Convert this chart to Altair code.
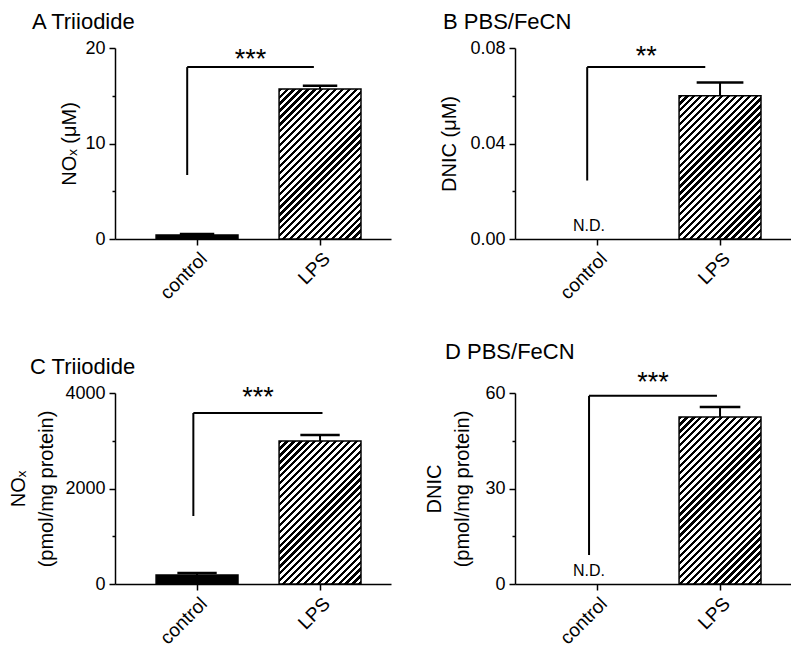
import altair as alt
import pandas as pd

FONT = "Liberation Sans"
CATS = ["control", "LPS"]

PANEL_TITLES = ["A Triiodide", "B PBS/FeCN", "C Triiodide", "D PBS/FeCN"]
Y_TITLES = ["NOₓ (μM)", "DNIC (μM)", ["NOₓ", "(pmol/mg protein)"], ["DNIC", "(pmol/mg protein)"]]
Y_MAX = [20, 0.08, 4000, 60]
Y_MAJOR = [[0, 10, 20], [0, 0.04, 0.08], [0, 2000, 4000], [0, 30, 60]]
Y_MINOR = [[5, 15], [0.02, 0.06], [1000, 3000], [15, 45]]
Y_FORMAT = ["d", ".2f", "d", "d"]
MEANS = [[0.42, 15.7], [None, 0.060], [188, 2995], [None, 52.5]]
SEMS = [[0.10, 0.35], [None, 0.0055], [40, 125], [None, 3.1]]
SIG = ["***", "**", "***", "***"]
BRACKET_LOW = [6.7, 0.0245, 1424, 9.1]
BRACKET_HIGH = [18.0, 0.072, 3581, 59.1]
STAR_Y = [19.3, 0.0783, 4000, 64.7]
ND_TEXT = "N.D."

# ---- style / layout constants ----
W, H = 276, 191
X_DOMAIN = [-0.667, 1.577]
STEP = W / (X_DOMAIN[1] - X_DOMAIN[0])
BAR_HALF = 0.333
CAP_HALF = [0.14, 0.19, 0.16, 0.165]
BRK_X = [(-0.08, 0.95), (-0.08, 0.88), (-0.03, 1.02), (-0.065, 0.975)]
TITLE_DX = [-83, -72, -85, -70]
TITLE_PAD = [5, 10, 8, 12]
HATCH_PERIOD_PX = 4.9
HATCH_BLACK = 0.47


def hatch_fill(w, h):
    a = w * (w + h) / (w * w + h * h)
    b = h * (w + h) / (w * w + h * h)
    period_t = HATCH_PERIOD_PX * (2 ** 0.5) / (w + h)
    stops = []
    s = 0.0
    while s < 1.0:
        e1 = min(s + HATCH_BLACK * period_t, 1.0)
        e2 = min(s + period_t, 1.0)
        stops += [
            {"offset": round(s, 5), "color": "black"},
            {"offset": round(e1, 5), "color": "black"},
            {"offset": round(e1, 5), "color": "white"},
            {"offset": round(e2, 5), "color": "white"},
        ]
        s += period_t
    return {"gradient": "linear", "x1": 0, "y1": 0, "x2": a, "y2": b, "stops": stops}


def panel(i):
    major = Y_MAJOR[i]
    ticks = sorted(major + Y_MINOR[i])
    major_js = "[" + ",".join(repr(v) for v in major) + "]"
    cats_js = "[" + ",".join("'" + c + "'" for c in CATS) + "]"
    yscale = alt.Scale(domain=[0, Y_MAX[i]], nice=False, zero=True)
    xscale = alt.Scale(domain=X_DOMAIN, nice=False, zero=False)
    yaxis = alt.Axis(
        values=ticks, format=Y_FORMAT[i], title=Y_TITLES[i],
        labelExpr=f"indexof({major_js}, datum.value) >= 0 ? datum.label : ''",
        tickSize={"condition": {"test": f"indexof({major_js}, datum.value) >= 0", "value": 6}, "value": 3},
        titlePadding=TITLE_PAD[i], grid=False, labelFontSize=18, labelPadding=4,
        titleLineHeight=28,
    )
    xaxis = alt.Axis(values=[0, 1], labelExpr=f"{cats_js}[datum.value]", title=None,
                     labelAngle=-45, tickSize=6, grid=False, labelPadding=4, labelFontSize=19)

    def X(f):
        return alt.X(f, type="quantitative", scale=xscale, axis=xaxis)

    def Y(f):
        return alt.Y(f, type="quantitative", scale=yscale, axis=yaxis)

    rows = []
    for j, c in enumerate(CATS):
        m = MEANS[i][j]
        rows.append(dict(cat=c, pos=j, lo=j - BAR_HALF, hi=j + BAR_HALF,
                         mean=m, top=(m + SEMS[i][j]) if m is not None else None,
                         cl=j - CAP_HALF[i], cr=j + CAP_HALF[i], zero=0))
    df = pd.DataFrame(rows)
    ctrl = df[(df.cat == CATS[0]) & df["mean"].notna()]
    lps = df[(df.cat == CATS[1]) & df["mean"].notna()]
    nd = df[df["mean"].isna()]

    layers = []
    if len(ctrl):
        layers.append(alt.Chart(ctrl).mark_bar(fill="black", stroke="black", strokeWidth=1.5)
                      .encode(x=X("lo"), x2="hi", y=Y("mean"), y2="zero"))
    lps_h = float(lps["mean"].iloc[0]) / Y_MAX[i] * H
    lps_w = 2 * BAR_HALF * STEP
    layers.append(alt.Chart(lps).mark_bar(fill=hatch_fill(lps_w, lps_h), stroke="black", strokeWidth=1.5)
                  .encode(x=X("lo"), x2="hi", y=Y("mean"), y2="zero"))
    err = df[df["mean"].notna()]
    layers.append(alt.Chart(err).mark_rule(color="black", strokeWidth=2)
                  .encode(x=X("pos"), y=Y("mean"), y2="top"))
    layers.append(alt.Chart(err).mark_rule(color="black", strokeWidth=2.5)
                  .encode(x=X("cl"), x2="cr", y=Y("top")))
    if len(nd):
        layers.append(alt.Chart(nd).mark_text(text=ND_TEXT, font=FONT, fontSize=16, dx=-8, dy=-13, color="black")
                      .encode(x=X("pos"), y=Y("zero")))
    bl, br = BRK_X[i]
    bdf = pd.DataFrame([dict(bl=bl, br=br, mid=(bl + br) / 2, lo=BRACKET_LOW[i], hi=BRACKET_HIGH[i],
                             sy=STAR_Y[i], sig=SIG[i])])
    layers.append(alt.Chart(bdf).mark_rule(color="black", strokeWidth=2)
                  .encode(x=X("bl"), y=Y("lo"), y2="hi"))
    layers.append(alt.Chart(bdf).mark_rule(color="black", strokeWidth=2)
                  .encode(x=X("bl"), x2="br", y=Y("hi")))
    layers.append(alt.Chart(bdf).mark_text(font=FONT, fontSize=27, color="black", baseline="middle", dy=5)
                  .encode(x=X("mid"), y=Y("sy"), text="sig:N"))

    return alt.layer(*layers).properties(
        width=W, height=H,
        title=alt.Title(PANEL_TITLES[i], anchor="start", frame="group", dx=TITLE_DX[i], fontSize=22, font=FONT,
                        fontWeight="normal", color="black", offset=5),
    )


chart = alt.concat(*[panel(i) for i in range(4)], columns=2, spacing={"row": 38, "column": 33}).properties(
    padding={"left": 0, "top": 3, "right": 0, "bottom": 0}
).configure_view(stroke=None).configure_axis(
    domainColor="black", domainWidth=1.5, tickColor="black", tickWidth=1.5,
    labelFont=FONT, labelColor="black",
    titleFont=FONT, titleFontSize=20, titleFontWeight="normal", titleColor="black",
)

chart.save("out.html", embed_options={"renderer": "svg", "actions": False})
